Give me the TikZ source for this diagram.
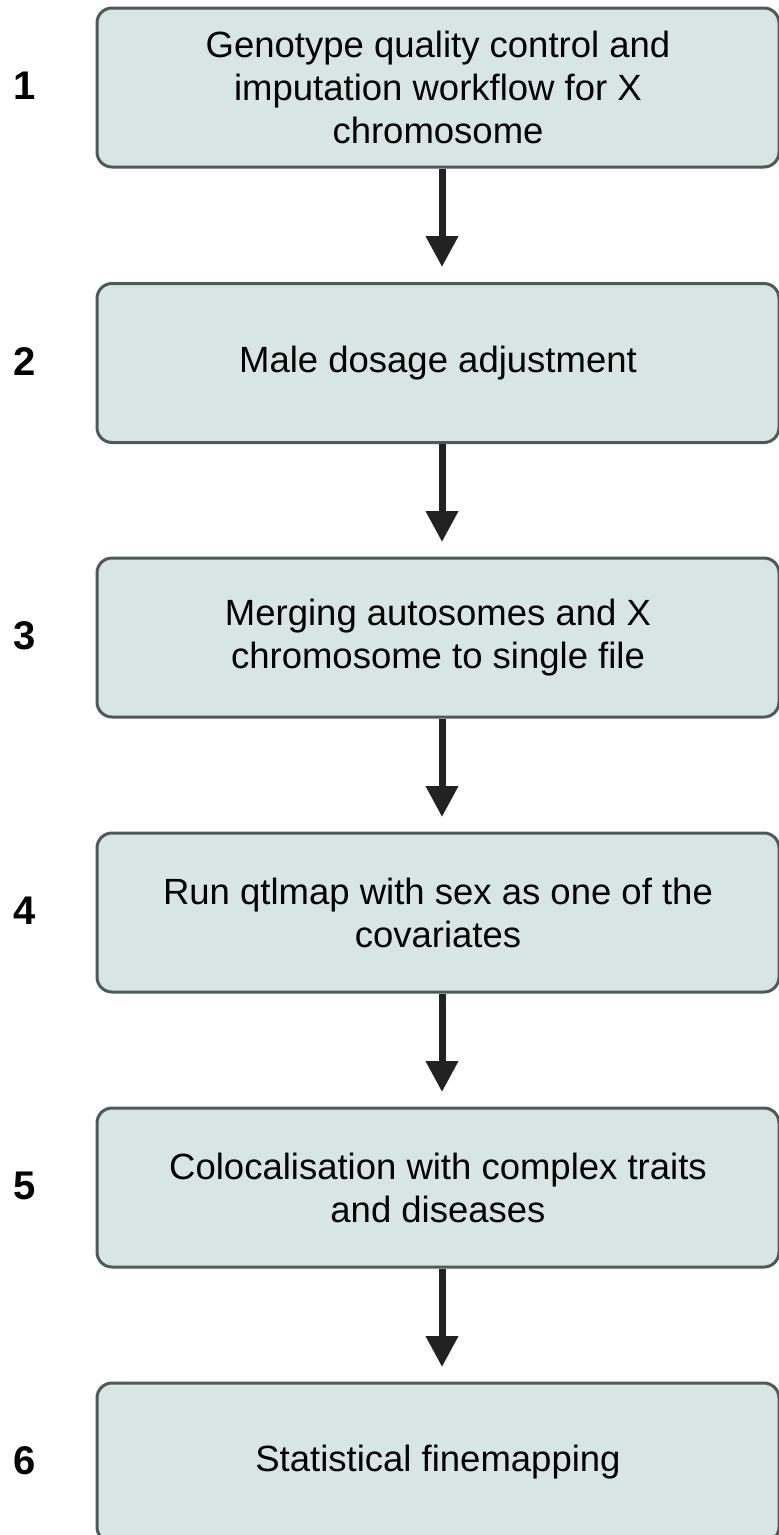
\documentclass[tikz,border=0pt]{standalone}
\usepackage{fontspec}
\setmainfont{Liberation Sans}
\usetikzlibrary{arrows.meta}
\tikzset{
  stepbox/.style={draw=boxline, fill=boxfill, line width=3pt, rounded corners=15pt,
    minimum width=682pt, minimum height=159pt, align=center, inner sep=0pt,
    font=\fontsize{36.5}{43}\selectfont, text=black},
  num/.style={font=\fontsize{40}{44}\selectfont\bfseries, text=black, inner sep=0pt},
  flow/.style={draw=arrowcol, line width=7pt, -{Triangle[length=31pt,width=31pt]}, arrowcol}
}
\definecolor{boxfill}{HTML}{D8E6E3}
\definecolor{boxline}{HTML}{4D5B58}
\definecolor{arrowcol}{HTML}{222222}
\begin{document}
\begin{tikzpicture}[x=1pt,y=-1pt]
\useasboundingbox (0,0) rectangle (779,1535);
\node[stepbox] (b1) at (438,87.5) {Genotype quality control and\\imputation workflow for X\\chromosome};
\node[stepbox] (b2) at (438,363) {Male dosage adjustment};
\node[stepbox] (b3) at (438,637.5) {Merging autosomes and X\\chromosome to single file};
\node[stepbox] (b4) at (438,912.5) {Run qtlmap with sex as one of the\\covariates};
\node[stepbox] (b5) at (438,1187.5) {Colocalisation with complex traits\\and diseases};
\node[stepbox] (b6) at (438,1462.5) {Statistical finemapping};
\node[num] (n1) at (24.5,86) {1};
\node[num] (n2) at (24.5,361.5) {2};
\node[num] (n3) at (24.5,636) {3};
\node[num] (n4) at (24.5,911) {4};
\node[num] (n5) at (24.5,1186) {5};
\node[num] (n6) at (24.5,1461) {6};
\coordinate (t1) at (442,267);
\coordinate (t2) at (442,542);
\coordinate (t3) at (442,817);
\coordinate (t4) at (442,1092);
\coordinate (t5) at (442,1367);
\draw[flow] (b1.south -| t1) -- (t1);
\draw[flow] (b2.south -| t2) -- (t2);
\draw[flow] (b3.south -| t3) -- (t3);
\draw[flow] (b4.south -| t4) -- (t4);
\draw[flow] (b5.south -| t5) -- (t5);
\end{tikzpicture}
\end{document}
